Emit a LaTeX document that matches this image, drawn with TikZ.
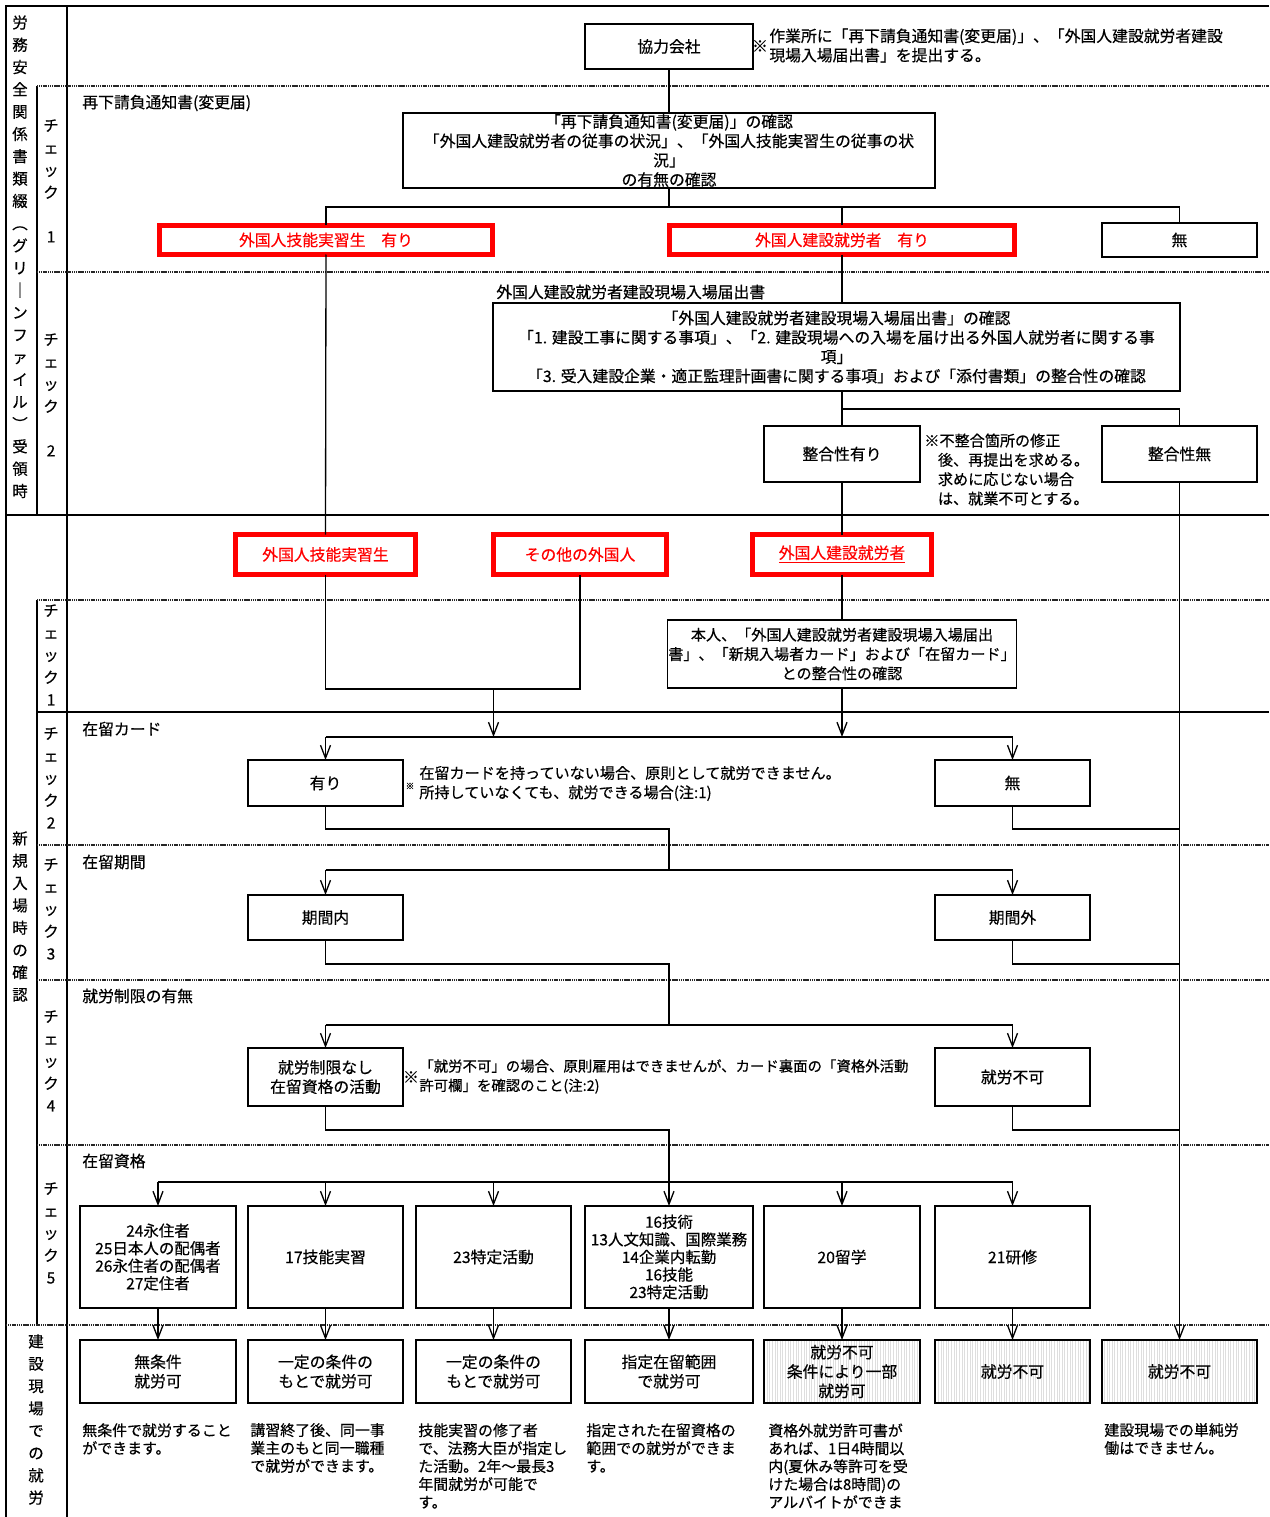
\documentclass[tikz,border=0pt]{standalone}
\usepackage{fontspec}
\setmainfont{Noto Sans CJK JP}[FakeBold=0.4]
\usetikzlibrary{arrows.meta,patterns.meta}
\newcommand\fs{\fontsize{9pt}{11pt}\selectfont}
\newcommand\fsb{\fontsize{8.6pt}{11pt}\selectfont}
\newcommand\fsd{\fontsize{8.8pt}{10pt}\selectfont}
\newcommand\fsn{\fontsize{8.2pt}{11pt}\selectfont}
\newcommand\fsdesc{\fontsize{8.5pt}{10.2pt}\selectfont}
\newcommand\vfs{\fontsize{8.8pt}{12.7pt}\selectfont}
\newcommand\bx[6]{\node[#2, minimum width={(#5-#3)*0.02cm}, minimum height={(#6-#4)*0.02cm}] (#1) at ({(#3+#5)/2},{(#4+#6)/2})}
\tikzset{
  box/.style={draw, line width=0.8pt, inner sep=0.5pt, outer sep=0pt, font=\fs, align=center},
  redbox/.style={draw=red, line width=2.8pt, inner sep=0.5pt, outer sep=0pt, font=\fs, text=red, align=center},
  gbox/.style={box, pattern={Lines[angle=90,distance=1.5pt,line width=0.35pt]}, pattern color=black!13},
  lbl/.style={anchor=west, inner sep=0pt, font=\fs, align=left},
  desc/.style={anchor=west, inner sep=0pt, font=\fsdesc, align=left},
  vlbl/.style={anchor=north, inner sep=0pt, font=\vfs, align=center},
  conn/.style={line width=0.75pt},
  arr/.style={conn, -{Straight Barb[length=0.26cm,width=0.2cm]}},
  sepline/.style={line width=1pt, dash pattern=on 0.7pt off 0.35pt, black!85},
  frameline/.style={line width=0.9pt},
}
\begin{document}
\begin{tikzpicture}[x=0.02cm,y=-0.02cm]
\useasboundingbox (0,0) rectangle (1269,1517);
% ---------- frame ----------
\draw[frameline] (1269,6) -- (6,6) -- (6,1517);
\draw[frameline] (67,6) -- (67,1517);
\draw[frameline] (37,86) -- (37,515);
\draw[frameline] (37,600) -- (37,1325);
\draw[frameline] (6,515) -- (1269,515);
\draw[frameline] (37,712) -- (1269,712);
\foreach \yy in {86,272,600,845,980,1145} \draw[sepline] (37,\yy) -- (1269,\yy);
\draw[sepline] (6,1325) -- (1269,1325);
% ---------- column labels ----------
\node[vlbl] (colA) at (20,15) {労\\務\\安\\全\\関\\係\\書\\類\\綴\\︵\\グ\\リ\\｜\\ン\\フ\\ァ\\イ\\ル\\︶\\受\\領\\時};
\node[vlbl] (colB) at (20,831) {新\\規\\入\\場\\時\\の\\確\\認};
\node[vlbl] (colC) at (36,1334) {建\\設\\現\\場\\で\\の\\就\\労};
\node[vlbl] (ck11) at (51,119) {チ\\ェ\\ッ\\ク\\[12.5pt]1};
\node[vlbl] (ck12) at (51,333) {チ\\ェ\\ッ\\ク\\[12.5pt]2};
\node[vlbl] (ck21) at (51,604) {チ\\ェ\\ッ\\ク\\1};
\node[vlbl] (ck22) at (51,727) {チ\\ェ\\ッ\\ク\\2};
\node[vlbl] (ck23) at (51,858) {チ\\ェ\\ッ\\ク\\3};
\node[vlbl] (ck24) at (51,1010) {チ\\ェ\\ッ\\ク\\4};
\node[vlbl] (ck25) at (51,1182) {チ\\ェ\\ッ\\ク\\5};
% ---------- section 1 ----------
\bx{kyo}{box}{585}{24}{753}{69}{協力会社};
\node[inner sep=0pt, font=\fs] (kome1) at (760,46) {※};
\node[lbl] (note1) at (769,45.5) {作業所に「再下請負通知書(変更届)」、「外国人建設就労者建設\\現場入場届出書」を提出する。};
\node[lbl] (t1) at (82,103) {再下請負通知書(変更届)};
\bx{chk1}{box}{403}{113}{935}{188}{「再下請負通知書(変更届)」の確認\\「外国人建設就労者の従事の状況」、「外国人技能実習生の従事の状\\況」\\の有無の確認};
\bx{rA}{redbox}{159.5}{225.5}{492.5}{254.5}{外国人技能実習生　有り};
\bx{rB}{redbox}{669.5}{225.5}{1014.5}{254.5}{外国人建設就労者　有り};
\bx{mu1}{box}{1102}{223}{1257}{257}{無};
\node[lbl] (t2) at (496,292) {外国人建設就労者建設現場入場届出書};
\bx{chk2}{box}{493}{303}{1180}{391}{「外国人建設就労者建設現場入場届出書」の確認\\「1. 建設工事に関する事項」、「2. 建設現場への入場を届け出る外国人就労者に関する事\\項」\\「3. 受入建設企業・適正監理計画書に関する事項」および「添付書類」の整合性の確認};
\bx{seiA}{box}{764}{426}{920}{482}{整合性有り};
\bx{seiB}{box}{1102}{426}{1257}{482}{整合性無};
\node[lbl, font=\fsb] (note2) at (924,469.5) {※不整合箇所の修正\\\hspace*{0.9em}後、再提出を求める。\\\hspace*{0.9em}求めに応じない場合\\\hspace*{0.9em}は、就業不可とする。};
% ---------- section 2 ----------
\bx{rC}{redbox}{235.5}{534.5}{415.5}{574.5}{外国人技能実習生};
\bx{rD}{redbox}{493.5}{534.5}{666.5}{574.5}{その他の外国人};
\bx{rE}{redbox}{752.5}{534.5}{931.5}{574.5}{\underline{外国人建設就労者}};
\bx{b4}{box, font=\fsb}{670}{620}{1014}{688}{本人、「外国人建設就労者建設現場入場届出\\書」、「新規入場者カード」および「在留カード」\\との整合性の確認};
\node[lbl] (s2) at (82,729) {在留カード};
\node[lbl] (s3) at (82,862) {在留期間};
\node[lbl] (s4) at (82,996) {就労制限の有無};
\node[lbl] (s5) at (82,1161) {在留資格};
\bx{ari}{box}{248}{760}{403}{806}{有り};
\bx{nashi}{box}{935}{760}{1090}{806}{無};
\node[inner sep=0pt, font=\tiny] (kome3) at (410,786) {※};
\node[lbl, font=\fsb] (note3) at (419,783.5) {在留カードを持っていない場合、原則として就労できません。\\所持していなくても、就労できる場合(注:1)};
\bx{kin}{box}{248}{895}{403}{940}{期間内};
\bx{kgai}{box}{935}{895}{1090}{940}{期間外};
\bx{seigen}{box}{248}{1048}{403}{1106}{就労制限なし\\在留資格の活動};
\bx{fuka4}{box}{935}{1048}{1090}{1106}{就労不可};
\node[inner sep=0pt, font=\fs] (kome4) at (411,1077) {※};
\node[lbl, font=\fsn] (note4) at (419,1076.5) {「就労不可」の場合、原則雇用はできませんが、カード裏面の「資格外活動\\許可欄」を確認のこと(注:2)};
\bx{cA}{box, font=\fsd}{80}{1206}{236}{1308}{24永住者\\25日本人の配偶者\\26永住者の配偶者\\27定住者};
\bx{cB}{box}{248}{1206}{403}{1308}{17技能実習};
\bx{cC}{box}{416}{1206}{571}{1308}{23特定活動};
\bx{cD}{box, font=\fsd}{585}{1206}{753}{1308}{16技術\\13人文知識、国際業務\\14企業内転勤\\16技能\\23特定活動};
\bx{cE}{box}{764}{1206}{920}{1308}{20留学};
\bx{cF}{box}{935}{1206}{1090}{1308}{21研修};
% ---------- section 3 ----------
\bx{fA}{box}{80}{1340}{236}{1403}{無条件\\就労可};
\bx{fB}{box}{248}{1340}{403}{1403}{一定の条件の\\もとで就労可};
\bx{fC}{box}{416}{1340}{571}{1403}{一定の条件の\\もとで就労可};
\bx{fD}{box}{585}{1340}{753}{1403}{指定在留範囲\\で就労可};
\bx{fE}{gbox}{764}{1340}{920}{1403}{就労不可\\条件により一部\\就労可};
\bx{fF}{gbox}{935}{1340}{1090}{1403}{就労不可};
\bx{fG}{gbox}{1102}{1340}{1257}{1403}{就労不可};
\node[desc] (dA) at (82,1439) {無条件で就労すること\\ができます。};
\node[desc] (dB) at (250,1448) {講習終了後、同一事\\業主のもと同一職種\\で就労ができます。};
\node[desc] (dC) at (418,1466) {技能実習の修了者\\で、法務大臣が指定し\\た活動。2年～最長3\\年間就労が可能で\\す。};
\node[desc] (dD) at (586,1448) {指定された在留資格の\\範囲での就労ができま\\す。};
\node[desc] (dE) at (768,1466) {資格外就労許可書が\\あれば、1日4時間以\\内(夏休み等許可を受\\けた場合は8時間)の\\アルバイトができま};
\node[desc] (dG) at (1104,1439) {建設現場での単純労\\働はできません。};
% ---------- connectors ----------
\draw[conn] (kyo.south) -- (chk1.north);
\coordinate (j1) at (669,207);
\draw[conn] (chk1.south) -- (j1);
\draw[conn] (rA.north) -- (rA.north |- j1) -- (mu1.north |- j1) -- (mu1.north);
\draw[conn] (rB.north) -- (rB.north |- j1);
\draw[conn] (rA.south) -- (rC.north);
\draw[conn] (rB.south) -- (chk2.north -| rB.south);
\coordinate (j2) at (842,409);
\draw[conn] (chk2.south -| seiA.north) -- (seiA.north);
\draw[conn] (j2) -| (seiB.north);
\draw[conn] (seiA.south) -- (rE.north);
\draw[conn] (rE.south) -- (b4.north);
\coordinate (m1) at (493.5,689);
\coordinate (h2) at (493.5,737);
\draw[conn] (rC.south) |- (rD.south |- m1) -- (rD.south);
\draw[arr] (m1) -- (h2);
\draw[arr] (b4.south) -- (b4.south |- h2);
\draw[conn] (ari.north |- h2) -- (nashi.north |- h2);
\draw[arr] (ari.north |- h2) -- (ari.north);
\draw[arr] (nashi.north |- h2) -- (nashi.north);
\draw[arr] (seiB.south) -- (fG.north);
% check 2 -> 3
\coordinate (c2) at (669,829);
\coordinate (h3) at (669,870);
\draw[conn] (ari.south) |- (c2) -- (h3);
\draw[conn] (nashi.south) |- (seiB.south |- c2);
\draw[conn] (kin.north |- h3) -- (kgai.north |- h3);
\draw[arr] (kin.north |- h3) -- (kin.north);
\draw[arr] (kgai.north |- h3) -- (kgai.north);
% check 3 -> 4
\coordinate (c3) at (669,964);
\coordinate (h4) at (669,1025);
\draw[conn] (kin.south) |- (c3) -- (h4);
\draw[conn] (kgai.south) |- (seiB.south |- c3);
\draw[conn] (seigen.north |- h4) -- (fuka4.north |- h4);
\draw[arr] (seigen.north |- h4) -- (seigen.north);
\draw[arr] (fuka4.north |- h4) -- (fuka4.north);
% check 4 -> 5
\coordinate (c4) at (669,1130);
\coordinate (h5) at (669,1182);
\draw[conn] (seigen.south) |- (c4) -- (h5);
\draw[conn] (fuka4.south) |- (seiB.south |- c4);
\draw[conn] (cA.north |- h5) -- (cF.north |- h5);
\foreach \n in {cA,cB,cC,cD,cE,cF} \draw[arr] (\n.north |- h5) -- (\n.north);
% check 5 -> result
\draw[arr] (cA.south) -- (fA.north);
\draw[arr] (cB.south) -- (fB.north);
\draw[arr] (cC.south) -- (fC.north);
\draw[arr] (cD.south) -- (fD.north);
\draw[arr] (cE.south) -- (fE.north);
\draw[arr] (cF.south) -- (fF.north);
\end{tikzpicture}
\end{document}
